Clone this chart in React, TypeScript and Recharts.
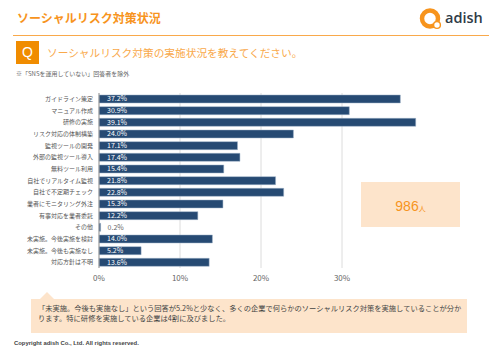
import { BarChart, Bar, XAxis, YAxis, CartesianGrid, LabelList } from 'recharts';

const categories = [
  'ガイドライン策定',
  'マニュアル作成',
  '研修の実施',
  'リスク対応の体制構築',
  '監視ツールの開発',
  '外部の監視ツール導入',
  '無料ツール利用',
  '自社でリアルタイム監視',
  '自社で不定期チェック',
  '業者にモニタリング外注',
  '有事対応を業者委託',
  'その他',
  '未実施。今後実施を検討',
  '未実施。今後も実施なし',
  '対応方針は不明',
];
const values = [37.2, 30.9, 39.1, 24.0, 17.1, 17.4, 15.4, 21.8, 22.8, 15.3, 12.2, 0.2, 14.0, 5.2, 13.6];
const xTicks = [0, 10, 20, 30];

const data = categories.map((name, i) => ({ name, value: values[i] }));

const FONT = '"Noto Sans CJK JP", "Liberation Sans", sans-serif';
const ORANGE = '#f7941d';

const abs = (left: number, top: number, extra: React.CSSProperties = {}): React.CSSProperties => ({
  position: 'absolute',
  left,
  top,
  whiteSpace: 'nowrap',
  ...extra,
});

function BarValue(props: any) {
  const { x, y, width, height, value } = props;
  const small = width < 20;
  return (
    <text
      x={small ? x + width + 7 : x + 8}
      y={y + height / 2 + 0.5}
      dominantBaseline="middle"
      fontSize={7}
      fontFamily={FONT}
      fill={small ? '#666' : '#fff'}
    >
      {`${value.toFixed(1)}%`}
    </text>
  );
}

function Logo() {
  return (
    <div style={abs(419, 8, { width: 70, height: 24 })}>
      <svg width={24} height={24} style={{ position: 'absolute', left: 0, top: 0 }}>
        <circle cx={11} cy={10.5} r={8} fill="none" stroke={ORANGE} strokeWidth={4.5} />
        <circle cx={18} cy={17} r={3.4} fill="#fff" stroke={ORANGE} strokeWidth={1.4} />
      </svg>
      <span style={abs(26, 0, { fontFamily: '"Open Sans", sans-serif', fontSize: 14.5, fontWeight: 600, color: '#2f3b47', lineHeight: '20px' })}>
        adish
      </span>
    </div>
  );
}

export default function App() {
  return (
    <div style={{ position: 'absolute', left: 0, top: 0, width: 500, height: 354, background: '#fff', overflow: 'hidden', fontFamily: FONT }}>
      <div style={abs(17, 8, { fontSize: 12, fontWeight: 700, color: ORANGE, lineHeight: '20px' })}>ソーシャルリスク対策状況</div>
      <Logo />
      <div style={abs(13, 35, { width: 476, height: 1, background: '#f9a94b' })} />
      <div style={abs(16, 41, { width: 23, height: 23, background: '#f08c00', color: '#fff', fontSize: 14, lineHeight: '23px', textAlign: 'center', fontFamily: '"Liberation Sans", sans-serif' })}>Q</div>
      <div style={abs(47, 43, { fontSize: 10.7, color: '#f9a94b', lineHeight: '20px' })}>ソーシャルリスク対策の実施状況を教えてください。</div>
      <div style={abs(16, 69, { fontSize: 6, color: '#666', lineHeight: '10px' })}>※「SNSを運用していない」回答者を除外</div>

      <div style={abs(0, 0)}>
        <BarChart
          width={500}
          height={290}
          data={data}
          layout="vertical"
          margin={{ top: 93, right: 77, bottom: 6, left: 0 }}
          barCategoryGap="17%"
        >
          <CartesianGrid horizontal={false} vertical verticalValues={xTicks} stroke="#dcdcdc" />
          <XAxis
            type="number"
            domain={[0, 40]}
            ticks={xTicks}
            height={16}
            tickFormatter={(v: number) => `${v}%`}
            axisLine={false}
            tickLine={false}
            tick={{ fontSize: 8, fill: '#666', fontFamily: FONT }}
            tickMargin={1}
          />
          <YAxis
            type="category"
            dataKey="name"
            width={99}
            interval={0}
            axisLine={{ stroke: '#999' }}
            tickLine={false}
            tick={{ fontSize: 6, fill: '#555', fontFamily: FONT }}
            tickMargin={0}
          />
          <Bar dataKey="value" fill="#264a73" stroke="#9fb2c8" strokeWidth={0.5} isAnimationActive={false}>
            <LabelList dataKey="value" content={BarValue} />
          </Bar>
        </BarChart>
      </div>

      <div style={abs(361, 182, { width: 99, height: 45, background: '#fde4cb', textAlign: 'center', color: ORANGE, lineHeight: '45px' })}>
        <span style={{ fontSize: 14, fontFamily: '"Liberation Sans", sans-serif' }}>986</span>
        <span style={{ fontSize: 7 }}>人</span>
      </div>

      <svg width={14} height={7} style={{ position: 'absolute', left: 40, top: 292 }}>
        <polygon points="0,7 7,0 14,7" fill="#fde4cb" />
      </svg>
      <div style={abs(31, 299, { width: 436, height: 34, background: '#fde4cb' })} />
      <div style={abs(38, 303, { fontSize: 7.27, color: '#444', lineHeight: '10px' })}>
        「未実施。今後も実施なし」という回答が5.2%と少なく、多くの企業で何らかのソーシャルリスク対策を実施していることが分か
        <br />
        ります。特に研修を実施している企業は4割に及びました。
      </div>
      <div style={abs(14, 338, { fontSize: 5.9, fontWeight: 700, color: '#444', lineHeight: '10px', fontFamily: '"Liberation Sans", sans-serif' })}>
        Copyright adish Co., Ltd. All rights reserved.
      </div>
    </div>
  );
}
